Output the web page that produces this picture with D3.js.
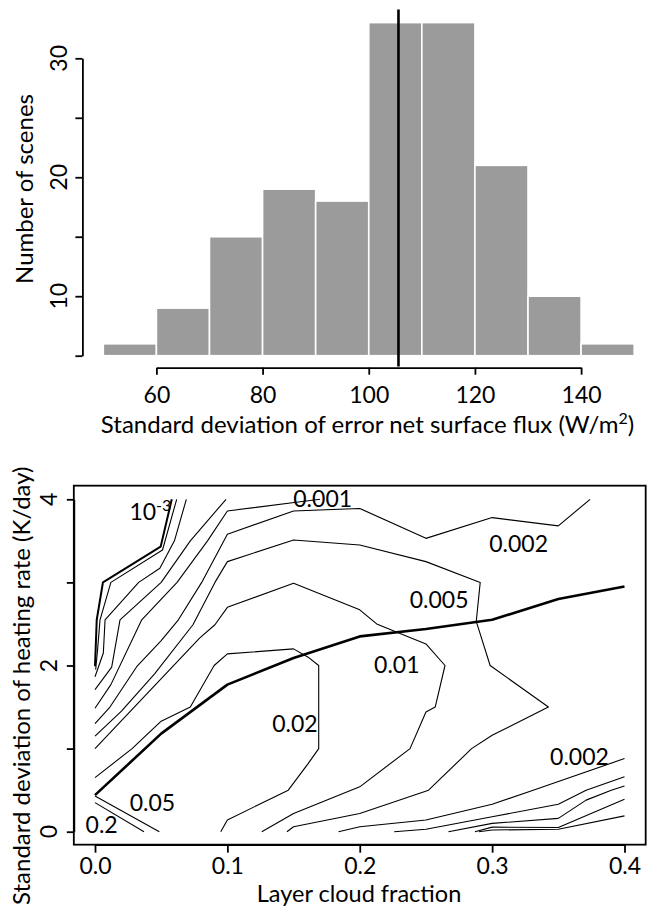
<!DOCTYPE html>
<html>
<head>
<meta charset="utf-8">
<script src="https://cdn.jsdelivr.net/npm/d3@7"></script>
<style>
  body { margin: 0; background: #fff; }
  text { font-family: Lato, "Open Sans", sans-serif; fill: #000; }
</style>
</head>
<body>
<div id="chart"></div>
<script>
// ---- histogram data ----
const binEdges = [50, 60, 70, 80, 90, 100, 110, 120, 130, 140, 150];
const counts = [6, 9, 15, 19, 18, 33, 33, 21, 10, 6];
const meanValue = 105.6;
const histXTicks = [60, 80, 100, 120, 140];
const histYTicks = [5, 10, 15, 20, 25, 30];
const histYLabels = [10, 20, 30];

// ---- contour plot data (layer cloud fraction, K/day) ----
const cfXTicks = [0, 0.1, 0.2, 0.3, 0.4];
const cfYTicks = [0, 1, 2, 3, 4];
const cfYLabels = [0, 2, 4];

const thickCurve = [[0, 0.44], [0.05, 1.18], [0.1, 1.77], [0.15, 2.09], [0.2, 2.35], [0.25, 2.44], [0.3, 2.55], [0.35, 2.8], [0.4, 2.95]];
const lineExp3 = [[0.058, 4.0], [0.0496, 3.43], [0.006, 3.0], [0.0013, 2.55], [0.0005, 2.2], [0, 1.99]];
const lineB = [[0.0617, 4.0], [0.051, 3.39], [0.012, 3.0], [0.0038, 2.55], [0.002, 2.2], [0.0005, 1.95]];
const lineC = [[0.069, 4.0], [0.06, 3.5], [0.049, 3.17], [0.033, 3.0], [0.0076, 2.55], [0.0063, 2.15], [0, 1.865]];
const lineD = [[0.099, 4.0], [0.072, 3.5], [0.05, 3.0], [0.0189, 2.55], [0.0126, 1.98], [0, 1.71]];
const line001 = [[0.17, 4.0], [0.155, 3.97], [0.1, 3.86], [0.085, 3.5], [0.062, 3.0], [0.0353, 2.55], [0.012, 1.77], [0, 1.485]];
const line002 = [[0.374, 4.0], [0.35, 3.68], [0.3, 3.78], [0.25, 3.53], [0.2, 3.89], [0.15, 3.86], [0.1, 3.58], [0.0806, 3.0], [0.063, 2.55], [0.05, 2.3], [0.0315, 1.985], [0.0113, 1.5], [0, 1.3]];
const line005 = [[0.145, 0], [0.15, 0.06], [0.2, 0.22], [0.252, 0.5], [0.2845, 1.0], [0.3, 1.16], [0.3425, 1.5], [0.2985, 2.0], [0.288, 2.53], [0.291, 3.0], [0.25, 3.25], [0.2, 3.45], [0.15, 3.51], [0.1, 3.25], [0.0906, 3.0], [0.074, 2.49], [0.045, 1.9], [0.02, 1.45], [0, 1.15]];
const line01 = [[0.126, 0], [0.15, 0.22], [0.2, 0.54], [0.238, 1.0], [0.25, 1.44], [0.257, 1.5], [0.2644, 2.0], [0.25, 2.26], [0.2128, 2.5], [0.2, 2.67], [0.15, 2.99], [0.1, 2.7], [0.0906, 2.49], [0.079, 2.33], [0, 1.0]];
const line02 = [[0.095, 0], [0.1, 0.14], [0.146, 0.5], [0.161, 0.82], [0.169, 1.0], [0.169, 2.0], [0.161, 2.1], [0.15, 2.2], [0.1, 2.14], [0.09, 2.0], [0.072, 1.5], [0.05, 1.33], [0.028, 1.0], [0, 0.65]];
const line05 = [[0, 0.43], [0.0486, 0]];
const line2 = [[0, 0.35], [0.037, 0]];
const low002 = [[0.184, 0], [0.2, 0.06], [0.25, 0.14], [0.3, 0.33], [0.331, 0.5], [0.4, 0.88]];
const lowJ = [[0.226, 0], [0.25, 0.03], [0.3, 0.18], [0.35, 0.33], [0.371, 0.5], [0.4, 0.66]];
const lowK = [[0.267, 0], [0.3, 0.1], [0.35, 0.16], [0.371, 0.38], [0.39, 0.5], [0.4, 0.55]];
const lowL = [[0.287, 0], [0.3, 0.055], [0.35, 0.05], [0.4, 0.39]];
const lowM = [[0.29, 0], [0.3, 0.02], [0.35, 0.03], [0.4, 0.19]];

const thinLines = [lineB, lineC, lineD, line001, line002, line005, line01, line02, line05, line2, low002, lowJ, lowK, lowL, lowM];

// label text and anchor point (x, baseline y) in data units
const contourLabels = [
  ["0.001", 0.172, 3.91], ["0.002", 0.32, 3.37], ["0.005", 0.26, 2.69],
  ["0.01", 0.228, 1.906], ["0.02", 0.151, 1.2], ["0.05", 0.0434, 0.253],
  ["0.2", 0.005, -0.016], ["0.002", 0.366, 0.8]
];

const width = 652, height = 907;
const svg = d3.select("#chart").append("svg")
  .attr("width", width)
  .attr("height", height);

const fs = 23;      // tick and contour labels
const fsTitle = 24; // axis titles

// ================= histogram =================
const xH = d3.scaleLinear().domain([60, 140]).range([156.4, 581.1]);
const yH = d3.scaleLinear().domain([5, 30]).range([355.7, 58.3]);

svg.append("g").selectAll("rect")
  .data(counts)
  .enter()
  .append("rect")
  .attr("x", (d, i) => xH(binEdges[i]))
  .attr("width", (d, i) => xH(binEdges[i + 1]) - xH(binEdges[i]))
  .attr("y", d => yH(d))
  .attr("height", d => yH(5) - yH(d))
  .attr("fill", "#9b9b9b")
  .attr("stroke", "#fff")
  .attr("stroke-width", 1.6);

svg.append("line")
  .attr("x1", xH(meanValue)).attr("x2", xH(meanValue))
  .attr("y1", yH(34.1)).attr("y2", yH(4.1))
  .attr("stroke", "#000")
  .attr("stroke-width", 2.6);

const histXAxis = svg.append("g")
  .attr("transform", "translate(0,367.7)")
  .call(d3.axisBottom(xH).tickValues(histXTicks).tickSize(7).tickSizeOuter(0).tickPadding(12));

const histYAxis = svg.append("g")
  .attr("transform", "translate(82.4,0)")
  .call(d3.axisLeft(yH).tickValues(histYTicks).tickSize(7).tickSizeOuter(0).tickFormat(""));

[histXAxis, histYAxis].forEach(g => {
  g.select(".domain").attr("stroke-width", 1.8);
  g.selectAll(".tick line").attr("stroke-width", 1.8);
  g.selectAll("text").attr("font-size", fs).attr("font-family", null);
});

svg.append("g").selectAll("text")
  .data(histYLabels)
  .enter()
  .append("text")
  .attr("transform", d => `translate(66.5,${yH(d)}) rotate(-90)`)
  .attr("text-anchor", "middle")
  .attr("font-size", fs)
  .text(d => d);

const histTitle = svg.append("text")
  .attr("x", 367.5)
  .attr("y", 433.3)
  .attr("text-anchor", "middle")
  .attr("font-size", fsTitle)
  .text("Standard deviation of error net surface flux (W/m");
histTitle.append("tspan").attr("dy", -9).attr("font-size", 16).text("2");
histTitle.append("tspan").attr("dy", 9).text(")");

svg.append("text")
  .attr("transform", "translate(33.3,189) rotate(-90)")
  .attr("text-anchor", "middle")
  .attr("font-size", fsTitle)
  .text("Number of scenes");

// ================= contour panel =================
const xC = d3.scaleLinear().domain([0, 0.4]).range([95, 624.5]);
const yC = d3.scaleLinear().domain([0, 4]).range([831.7, 499.3]);
const xLim = [-0.016, 0.416], yLim = [-0.156, 4.164];

const lineGen = d3.line().x(d => xC(d[0])).y(d => yC(d[1]));

svg.append("g").selectAll("path")
  .data(thinLines)
  .enter()
  .append("path")
  .attr("d", lineGen)
  .attr("fill", "none")
  .attr("stroke", "#000")
  .attr("stroke-width", 1.1)
  .attr("stroke-linejoin", "round");

svg.append("path")
  .attr("d", lineGen(lineExp3))
  .attr("fill", "none")
  .attr("stroke", "#000")
  .attr("stroke-width", 2);

svg.append("path")
  .attr("d", lineGen(thickCurve))
  .attr("fill", "none")
  .attr("stroke", "#000")
  .attr("stroke-width", 2.6)
  .attr("stroke-linejoin", "round");

svg.append("g").selectAll("text")
  .data(contourLabels)
  .enter()
  .append("text")
  .attr("x", d => xC(d[1]))
  .attr("y", d => yC(d[2]))
  .attr("text-anchor", "middle")
  .attr("font-size", fs)
  .text(d => d[0]);

const expLabel = svg.append("text")
  .attr("x", xC(0.026))
  .attr("y", yC(3.75))
  .attr("font-size", fs)
  .text("10");
expLabel.append("tspan").attr("dy", -9).attr("font-size", 16).text("-3");

svg.append("rect")
  .attr("x", xC(xLim[0]))
  .attr("y", yC(yLim[1]))
  .attr("width", xC(xLim[1]) - xC(xLim[0]))
  .attr("height", yC(yLim[0]) - yC(yLim[1]))
  .attr("fill", "none")
  .attr("stroke", "#000")
  .attr("stroke-width", 1.8);

const cfXAxis = svg.append("g")
  .attr("transform", `translate(0,${yC(yLim[0])})`)
  .call(d3.axisBottom(xC).tickValues(cfXTicks).tickSize(8).tickSizeOuter(0).tickPadding(5)
    .tickFormat(d3.format(".1f")));

const cfYAxis = svg.append("g")
  .attr("transform", `translate(${xC(xLim[0])},0)`)
  .call(d3.axisLeft(yC).tickValues(cfYTicks).tickSize(7).tickSizeOuter(0).tickFormat(""));

[cfXAxis, cfYAxis].forEach(g => {
  g.select(".domain").attr("stroke-width", 1.8);
  g.selectAll(".tick line").attr("stroke-width", 1.8);
  g.selectAll("text").attr("font-size", fs).attr("font-family", null);
});

svg.append("g").selectAll("text")
  .data(cfYLabels)
  .enter()
  .append("text")
  .attr("transform", d => `translate(56.7,${yC(d)}) rotate(-90)`)
  .attr("text-anchor", "middle")
  .attr("font-size", fs)
  .text(d => d);

svg.append("text")
  .attr("x", 359)
  .attr("y", 902)
  .attr("text-anchor", "middle")
  .attr("font-size", 23.5)
  .text("Layer cloud fraction");

svg.append("text")
  .attr("transform", "translate(30,905) rotate(-90)")
  .attr("text-anchor", "start")
  .attr("font-size", fsTitle)
  .text("Standard deviation of heating rate (K/day)");
</script>
</body>
</html>
